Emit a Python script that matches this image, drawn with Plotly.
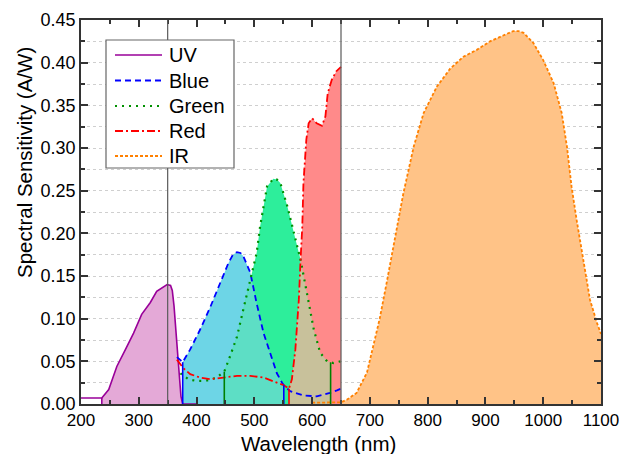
import numpy as np
import plotly.graph_objects as go

# ---------------- data ----------------
uv_x = [200, 236, 248, 262, 277, 291, 305, 320, 331, 340, 349, 355, 358, 361, 365, 369, 373, 376, 400]
uv_y = [0.007, 0.007, 0.017, 0.044, 0.064, 0.083, 0.105, 0.119, 0.132, 0.136, 0.140, 0.139, 0.133,
        0.115, 0.084, 0.044, 0.009, 0.0, 0.0]

blue_x = [366, 376, 389, 406, 424, 441, 455, 463, 470, 476, 481, 493, 504, 516, 527, 539, 548, 551,
          562, 585, 608, 631, 643, 650]
blue_y = [0.055, 0.049, 0.064, 0.087, 0.114, 0.142, 0.165, 0.175, 0.178, 0.177, 0.173, 0.154, 0.118,
          0.083, 0.060, 0.036, 0.025, 0.022, 0.015, 0.010, 0.009, 0.013, 0.016, 0.018]

green_x = [372, 386, 400, 415, 435, 448, 458, 470, 481, 493, 504, 510, 522, 533, 539, 545, 557, 568,
           580, 591, 603, 614, 626, 637, 649]
green_y = [0.036, 0.029, 0.027, 0.027, 0.031, 0.038, 0.056, 0.079, 0.111, 0.146, 0.177, 0.208, 0.255,
           0.264, 0.263, 0.259, 0.232, 0.202, 0.169, 0.130, 0.087, 0.060, 0.050, 0.048, 0.050]

red_x = [366, 377, 389, 406, 424, 447, 470, 493, 516, 539, 551, 560, 565, 571, 577, 580, 583, 585,
         590, 594, 600, 608, 617, 623, 627, 634, 642, 650]
red_y = [0.052, 0.042, 0.035, 0.031, 0.029, 0.031, 0.033, 0.033, 0.031, 0.025, 0.022, 0.018, 0.029,
         0.064, 0.122, 0.169, 0.208, 0.259, 0.310, 0.329, 0.335, 0.329, 0.326, 0.337, 0.364, 0.380,
         0.390, 0.395]

ir_x = [600, 640, 650, 660, 677, 695, 706, 717, 729, 741, 758, 776, 793, 816, 839, 862, 885, 908,
        931, 948, 957, 966, 983, 1000, 1018, 1032, 1041, 1049, 1058, 1070, 1081, 1093, 1100]
ir_y = [0.0015, 0.0015, 0.002, 0.005, 0.013, 0.037, 0.067, 0.100, 0.142, 0.185, 0.247, 0.302, 0.341,
        0.372, 0.393, 0.407, 0.415, 0.425, 0.432, 0.437, 0.437, 0.435, 0.423, 0.403, 0.376, 0.341,
        0.302, 0.255, 0.215, 0.165, 0.122, 0.095, 0.082]

# fill ranges (nm) of each channel, as in the reference
uv_fill = (236, 376)
blue_fill = (376, 551)
green_fill = (448, 632)
red_fill = (560, 650)
ir_fill = (650, 1100)

x_ticks = list(range(200, 1101, 100))
y_ticks = [round(0.05 * i, 2) for i in range(10)]

# ---------------- helpers ----------------
def clip(xs, ys, a, b):
    xs = np.asarray(xs, float); ys = np.asarray(ys, float)
    inner = (xs > a) & (xs < b)
    cx = np.concatenate([[a], xs[inner], [b]])
    cy = np.concatenate([[np.interp(a, xs, ys)], ys[inner], [np.interp(b, xs, ys)]])
    return cx, cy

def overlap(x1, y1, x2, y2, a, b):
    x1 = np.asarray(x1, float); y1 = np.asarray(y1, float)
    x2 = np.asarray(x2, float); y2 = np.asarray(y2, float)
    xs = np.unique(np.concatenate([[a, b], x1[(x1 > a) & (x1 < b)], x2[(x2 > a) & (x2 < b)]]))
    d = np.interp(xs, x1, y1) - np.interp(xs, x2, y2)
    extra = []
    for i in range(len(xs) - 1):
        if d[i] * d[i + 1] < 0:
            extra.append(xs[i] + (xs[i + 1] - xs[i]) * d[i] / (d[i] - d[i + 1]))
    xs = np.unique(np.concatenate([xs, extra]))
    return xs, np.minimum(np.interp(xs, x1, y1), np.interp(xs, x2, y2))

FONT = "Liberation Sans, Arial, sans-serif"
W, H = 619, 454
ML, MR, MT, MB = 81, 18, 20, 50
PW, PH = W - ML - MR, H - MT - MB
def px(xp): return (xp - ML) / PW           # pixel x -> paper x
def py(yp): return (H - MB - yp) / PH       # pixel y -> paper y

fig = go.Figure()

def add_fill(x, y, color):
    fig.add_trace(go.Scatter(x=x, y=y, mode="lines", fill="tozeroy", fillcolor=color,
                             line=dict(width=0, color=color), showlegend=False, hoverinfo="skip"))

add_fill(*clip(uv_x, uv_y, *uv_fill), "#E4A9D7")
add_fill(*clip(blue_x, blue_y, *blue_fill), "#6DD5E6")
add_fill(*clip(green_x, green_y, *green_fill), "#2DEE9B")
add_fill(*overlap(blue_x, blue_y, green_x, green_y,
                  max(blue_fill[0], green_fill[0]), min(blue_fill[1], green_fill[1])), "#5DDEC5")
add_fill(*clip(red_x, red_y, *red_fill), "#FF8A8A")
add_fill(*overlap(red_x, red_y, green_x, green_y,
                  max(red_fill[0], green_fill[0]), min(red_fill[1], green_fill[1])), "#C8C19B")
add_fill(*clip(ir_x, ir_y, *ir_fill), "#FFC387")

def edge(x0, xs, ys, color):
    fig.add_trace(go.Scatter(x=[x0, x0], y=[0, float(np.interp(x0, xs, ys))], mode="lines",
                             line=dict(color=color, width=1.6), showlegend=False, hoverinfo="skip"))

series = [
    ("UV", uv_x, uv_y, "#990099", "solid", 1.6),
    ("Blue", blue_x, blue_y, "#0000FF", "6px,4px", 1.8),
    ("Green", green_x, green_y, "#009000", "2px,5px", 2.2),
    ("Red", red_x, red_y, "#FF0000", "8px,3px,2px,3px", 1.8),
    ("IR", ir_x, ir_y, "#FF8000", "3px,2px", 1.8),
]
for name, xs, ys, col, dash, w in series:
    fig.add_trace(go.Scatter(x=xs, y=ys, mode="lines", name=name, showlegend=False,
                             line=dict(color=col, dash=dash, width=w)))

edge(uv_fill[0], uv_x, uv_y, "#990099")
edge(blue_fill[0], blue_x, blue_y, "#0000FF")
edge(blue_fill[1], blue_x, blue_y, "#0000FF")
edge(green_fill[0], green_x, green_y, "#008000")
edge(green_fill[1], green_x, green_y, "#008000")
edge(red_fill[0], red_x, red_y, "#FF0000")

for xv in (350, 650):
    fig.add_shape(type="line", x0=xv, x1=xv, y0=0, y1=1, xref="x", yref="paper",
                  line=dict(color="#5A5A5A", width=1.2), layer="above")

# ---- legend box (drawn like the reference: long line samples) ----
fig.add_shape(type="rect", xref="paper", yref="paper",
              x0=px(106), x1=px(234), y0=py(168), y1=py(40),
              line=dict(color="#666666", width=1.2), fillcolor="white", layer="above")
row_y = [55, 80.5, 106, 131, 156]
for (name, xs, ys, col, dash, w), ry in zip(series, row_y):
    fig.add_shape(type="line", xref="paper", yref="paper",
                  x0=px(115), x1=px(162), y0=py(ry), y1=py(ry),
                  line=dict(color=col, dash=dash, width=w), layer="above")
    fig.add_annotation(text=name, xref="paper", yref="paper", x=px(167), y=py(ry),
                       xanchor="left", yanchor="middle", showarrow=False,
                       font=dict(family=FONT, size=20, color="black"))

# axis titles
fig.add_annotation(text="Wavelength (nm)", xref="paper", yref="paper", x=px(318), y=py(443),
                   xanchor="center", yanchor="middle", showarrow=False,
                   font=dict(family=FONT, size=20.5, color="black"))
fig.add_annotation(text="Spectral Sensitivity (A/W)", xref="paper", yref="paper", x=px(24), y=py(163),
                   xanchor="center", yanchor="middle", showarrow=False, textangle=-90,
                   font=dict(family=FONT, size=20.5, color="black"))

axis_common = dict(showline=True, linecolor="#333333", linewidth=1.5, mirror="allticks",
                   ticks="inside", ticklen=7, tickwidth=1.5, tickcolor="#333333",
                   zeroline=False, showgrid=False, automargin=False, ticklabeloverflow="allow")

fig.update_xaxes(range=[200, 1100], tickvals=x_ticks, ticktext=[str(v) for v in x_ticks],
                 tickfont=dict(family=FONT, size=17, color="black"),
                 minor=dict(dtick=50, ticks="inside", ticklen=4, tickwidth=1.5, tickcolor="#333333",
                            showgrid=False),
                 **axis_common)
fig.update_yaxes(range=[0, 0.45], tickvals=y_ticks, ticktext=[f"{v:.2f}" for v in y_ticks],
                 tickfont=dict(family=FONT, size=18, color="black"),
                 minor=dict(dtick=0.025, tick0=0, ticks="inside", ticklen=4, tickwidth=1.5,
                            tickcolor="#333333", showgrid=True, gridcolor="#CFCFCF",
                            griddash="dot", gridwidth=1),
                 **axis_common)

fig.update_layout(
    width=W, height=H,
    margin=dict(l=ML, r=MR, t=MT, b=MB),
    plot_bgcolor="white", paper_bgcolor="white",
    showlegend=False,
    font=dict(family=FONT),
)

fig.write_html("out.html")
